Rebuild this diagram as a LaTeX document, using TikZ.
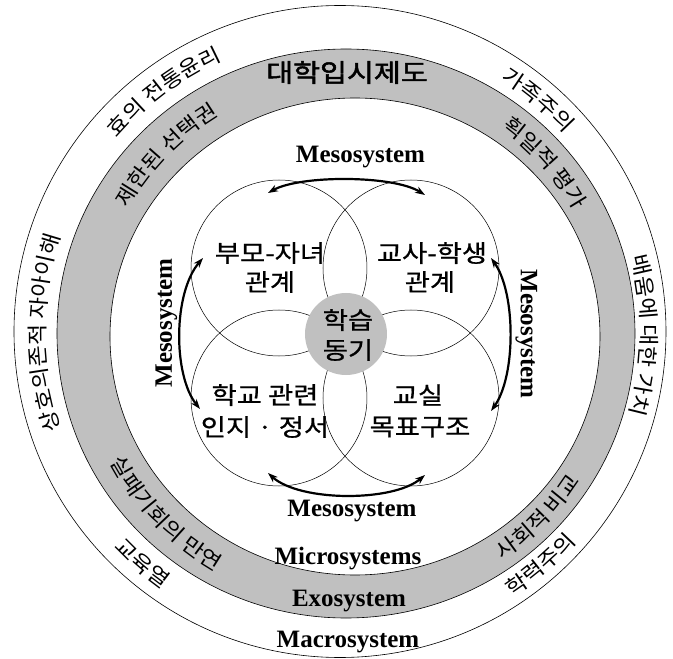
\documentclass[tikz,border=0pt]{standalone}
\usepackage{fontspec}
\setmainfont{Liberation Serif}
\newfontfamily\krfont[FakeStretch=1.1]{Noto Sans CJK KR}
\newfontfamily\krmed[FakeBold=0.8,FakeStretch=1.14]{Noto Sans CJK KR}
\newfontfamily\krbold[FakeBold=2,FakeStretch=1.17]{Noto Sans CJK KR}
\usetikzlibrary{arrows.meta,decorations.text}
\definecolor{bandgray}{RGB}{192,192,192}
\tikzset{
  ring/.style={line width=0.6pt},
  venn/.style={line width=0.5pt},
  inner/.style={font=\krmed\fontsize{24}{24}\selectfont, inner sep=0pt},
  syslabel/.style={font=\bfseries\fontsize{25}{25}\selectfont, inner sep=0pt, anchor=base},
  meso/.style={line width=2.2pt, {Stealth[length=10pt,width=7pt]}-{Stealth[length=10pt,width=7pt]}},
}
\newcommand{\ringcw}[5]{\path[shift={(#1)},decorate,decoration={text along path,text align=center,text={|\krfont\fontsize{21}{21}\selectfont|#5}}] ({#3+#4}:#2pt) arc[start angle={#3+#4},end angle={#3-#4},radius=#2pt];}
\newcommand{\ringccw}[5]{\path[shift={(#1)},decorate,decoration={text along path,text align=center,text={|\krfont\fontsize{21}{21}\selectfont|#5}}] ({#3-#4}:#2pt) arc[start angle={#3-#4},end angle={#3+#4},radius=#2pt];}
\begin{document}
\begin{tikzpicture}[x=1pt,y=1pt]
\useasboundingbox (-345,-326) rectangle (328,333);
\fill[white] (-345,-326) rectangle (328,333);
% rings
\draw[ring] (-5,1.5) circle[radius=326pt];
\fill[bandgray, even odd rule] (1,-0.5) ellipse[x radius=289pt,y radius=284.5pt] (10,-3.5) ellipse[x radius=245pt,y radius=238.5pt];
\draw[ring] (1,-0.5) ellipse[x radius=289pt,y radius=284.5pt];
\draw[ring] (10,-3.5) ellipse[x radius=245pt,y radius=238.5pt];
% venn circles
\draw[venn] (-66,65) circle[radius=88pt];
\draw[venn] (66,65) circle[radius=88pt];
\draw[venn] (-66,-65) circle[radius=88pt];
\draw[venn] (66,-65) circle[radius=88pt];
\fill[bandgray] (1,-1) circle[radius=41pt];
% inner texts
\node[inner] (pc1) at (-75,80) {부모-자녀};
\node[inner] (pc2) at (-75,51) {관계};
\node[inner] (ts1) at (87,80) {교사-학생};
\node[inner] (ts2) at (85,51) {관계};
\node[inner] (sc1) at (-80,-62) {학교 관련};
\node[inner] (sc2) at (-80,-94) {인지 · 정서};
\node[inner] (cg1) at (73,-62) {교실};
\node[inner] (cg2) at (75,-94) {목표구조};
\node[inner] (lm1) at (3,13) {학습};
\node[inner] (lm2) at (3,-17) {동기};
\node[inner, font=\krbold\fontsize{25}{25}\selectfont] (exam) at (2,260.5) {대학입시제도};
% system labels
\node[syslabel] (mesoT) at (15.5,170) {Mesosystem};
\node[syslabel] (mesoB) at (7,-183) {Mesosystem};
\node[syslabel] (micro) at (3,-231) {Microsystems};
\node[syslabel] (exo) at (4,-273) {Exosystem};
\node[syslabel] (macro) at (3,-314) {Macrosystem};
\node[syslabel, rotate=90] (mesoL) at (-173,10) {Mesosystem};
\node[syslabel, rotate=-90] (mesoR) at (176,-1) {Mesosystem};
% arrows
\coordinate (tA) at (-77,140); \coordinate (tB) at (80,138);
\coordinate (bA) at (-77,-140); \coordinate (bB) at (80,-142);
\coordinate (lA) at (-142,75); \coordinate (lB) at (-145,-76);
\coordinate (rA) at (146,75); \coordinate (rB) at (146,-78);
\draw[meso] (tA) .. controls (-45,158) and (48,158) .. (tB);
\draw[meso] (bA) .. controls (-45,-169) and (48,-169) .. (bB);
\draw[meso] (lA) .. controls (-172,40) and (-172,-42) .. (lB);
\draw[meso] (rA) .. controls (171,40) and (171,-43) .. (rB);
% curved texts
\ringcw{-2,0.5}{298}{126.6}{30}{효의 전통윤리}
\ringcw{-2,0.5}{298}{50}{25}{가족주의}
\ringcw{-2,0.5}{298}{-0.5}{40}{배움에 대한 가치}
\ringcw{-2,0.5}{298}{180}{45}{상호의존적 자아이해}
\ringccw{-2,0.5}{314}{-49.6}{25}{학력주의}
\ringccw{-2,0.5}{314}{-131}{25}{교육열}
\ringcw{5.5,-2}{256}{135.6}{30}{제한된 선택권}
\ringcw{5.5,-2}{256}{41.5}{30}{획일적 평가}
\ringccw{5.5,-2}{272}{-44.2}{30}{사회적 비교}
\ringccw{5.5,-2}{272}{-136}{35}{실패기회의 만연}
\end{tikzpicture}
\end{document}
